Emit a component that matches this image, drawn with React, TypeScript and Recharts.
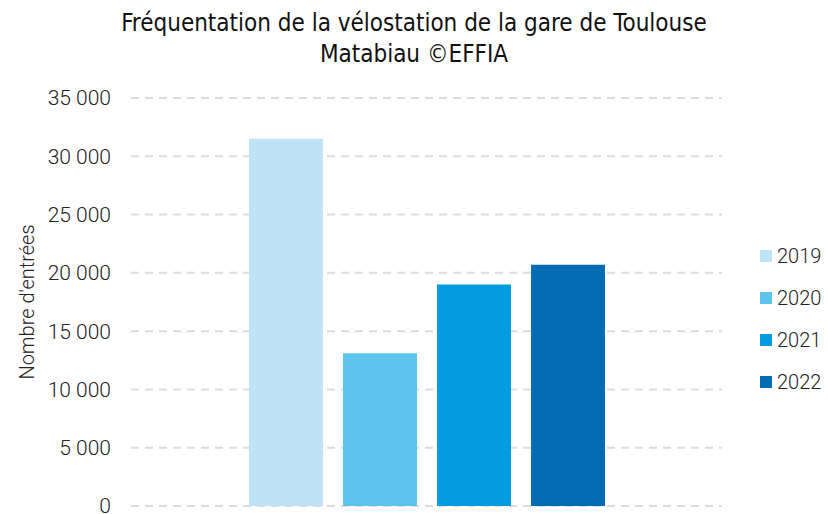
import React from 'react';
import { BarChart, Bar, XAxis, YAxis, CartesianGrid, Legend, Label } from 'recharts';

const categories = ['Vélostation'];
const years = ['2019', '2020', '2021', '2022'];
const entries = [31500, 13100, 19000, 20700];
const colors = ['#BEE3F6', '#5DC5ED', '#009CDF', '#006DB2'];
const yTicks = [0, 5000, 10000, 15000, 20000, 25000, 30000, 35000];
const titleLines = ['Fréquentation de la vélostation de la gare de Toulouse', 'Matabiau ©EFFIA'];
const yAxisTitle = "Nombre d'entrées";

const data = categories.map((c) => {
  const row: any = { name: c };
  years.forEach((y, i) => { row[y] = entries[i]; });
  return row;
});

const fmt = (v: number) => {
  const s = String(v);
  return s.replace(/\B(?=(\d{3})+(?!\d))/g, ' ');
};

const titleFont = '"Liberation Sans Narrow", "DejaVu Sans Condensed", "Roboto Condensed", sans-serif';
const bodyFont = 'Roboto, "Noto Sans", sans-serif';

const LegendContent = (props: any) => {
  const { payload } = props;
  return (
    <div>
      {(payload || []).map((p: any) => (
        <div key={p.value} style={{ display: 'flex', alignItems: 'center', height: 42 }}>
          <div style={{ width: 12, height: 12, background: p.color, marginRight: 5 }} />
          <span style={{ fontFamily: bodyFont, fontWeight: 300, fontSize: 20, color: '#222' }}>{p.value}</span>
        </div>
      ))}
    </div>
  );
};

export default function App() {
  return (
    <div style={{ position: 'absolute', left: 0, top: 0, width: 828, height: 514, background: '#fff' }}>
      <div
        style={{
          position: 'absolute', left: 0, top: 8, width: 828, textAlign: 'center',
          fontFamily: titleFont, fontSize: 24, lineHeight: '31px', color: '#111', zIndex: 2,
        }}
      >
        {titleLines.map((t) => (<div key={t}>{t}</div>))}
      </div>
      <BarChart
        width={828}
        height={514}
        data={data}
        margin={{ top: 98, right: 38, left: 0, bottom: 8 }}
        barSize={74}
        barGap={20}
      >
        <CartesianGrid vertical={false} stroke="#dcdcdc" strokeWidth={2} strokeDasharray="8 6" />
        <XAxis dataKey="name" tick={false} tickLine={false} height={0} axisLine={{ stroke: '#d9d9d9', strokeWidth: 2 }} />
        <YAxis
          width={131}
          domain={[0, 35000]}
          ticks={yTicks}
          interval={0}
          tickFormatter={fmt}
          axisLine={false}
          tickLine={false}
          tickSize={0}
          tickMargin={20}
          tick={{ fontFamily: bodyFont, fontWeight: 300, fontSize: 21, fill: '#222' }}
        >
          <Label
            value={yAxisTitle}
            angle={-90}
            position="insideLeft"
            offset={27}
            style={{ textAnchor: 'middle', fontFamily: bodyFont, fontWeight: 300, fontSize: 20, fill: '#222' }}
          />
        </YAxis>
        <Legend
          layout="vertical"
          align="right"
          verticalAlign="middle"
          content={<LegendContent />}
          wrapperStyle={{ position: 'absolute', left: 760, top: 235, width: 68 }}
        />
        {years.map((y, i) => (
          <Bar key={y} dataKey={y} fill={colors[i]} isAnimationActive={false} />
        ))}
      </BarChart>
    </div>
  );
}
